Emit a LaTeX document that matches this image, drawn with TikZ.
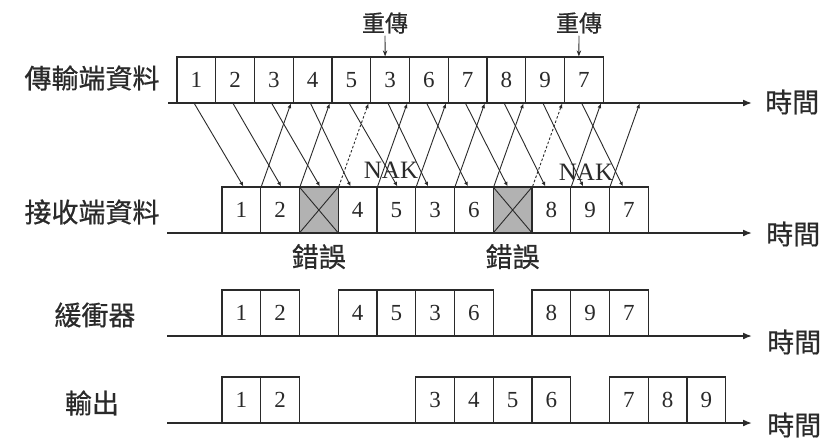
\documentclass[tikz,border=0pt]{standalone}
\usepackage{fontspec}
\setmainfont{Liberation Serif}
\newfontfamily\cjk[FakeBold=0.6]{Noto Sans CJK TC}
\usetikzlibrary{arrows.meta,calc}
\definecolor{ink}{HTML}{2A2A2A}
\definecolor{errfill}{HTML}{B2B2B2}
\begin{document}
\begin{tikzpicture}[x=1pt,y=-1pt,
  cell/.style={draw=ink,line width=1.2pt,minimum width=38.75pt,minimum height=46pt,inner sep=0pt,font=\fontsize{23}{23}\selectfont,text=ink},
  errbox/.style={cell,fill=errfill},
  axis/.style={draw=ink,line width=1.7pt,-{Latex[length=9pt,width=7pt]}},
  sig/.style={draw=ink,line width=0.9pt,-{Latex[length=4.5pt,width=4pt]}},
  nakline/.style={sig,dash pattern=on 2.5pt off 2pt},
  pointer/.style={draw=ink,line width=0.9pt,-{Stealth[length=6pt,width=4.5pt]}},
  lbl/.style={font=\cjk\fontsize{27}{27}\selectfont,text=ink,inner sep=0pt},
  smalllbl/.style={font=\cjk\fontsize{23}{23}\selectfont,text=ink,inner sep=0pt},
  naklbl/.style={font=\fontsize{25}{25}\selectfont,text=ink,inner sep=0pt}
]
\fill[white] (0,0) rectangle (828,437);
\useasboundingbox (0,0) rectangle (828,437);

% row labels
\node[lbl] (lsend) at (92,78) {傳輸端資料};
\node[lbl] (lrecv) at (92,212) {接收端資料};
\node[lbl] (lbuf) at (95,315) {緩衝器};
\node[lbl] (lout) at (92,403) {輸出};

% axes
\coordinate (sa0) at (168,103); \coordinate (sa1) at (752,103);
\coordinate (ra0) at (167,233); \coordinate (ra1) at (752,233);
\coordinate (ba0) at (167,336); \coordinate (ba1) at (752,336);
\coordinate (oa0) at (167,423); \coordinate (oa1) at (752,423);
\draw[axis] (sa0) -- (sa1);
\draw[axis] (ra0) -- (ra1);
\draw[axis] (ba0) -- (ba1);
\draw[axis] (oa0) -- (oa1);

\node[lbl,anchor=west] (t1) at (765,102) {時間};
\node[lbl,anchor=west] (t2) at (766,234) {時間};
\node[lbl,anchor=west] (t3) at (767,342) {時間};
\node[lbl,anchor=west] (t4) at (767,425) {時間};

% sender frames
\foreach \t [count=\i] in {1,2,3,4,5,3,6,7,8,9,7}
  \node[cell] (s\i) at ({177+38.75*(\i-0.5)},80) {\t};
\coordinate (s12) at ([xshift=38.75pt]s11.south east);

% receiver frames
\foreach \i/\t in {1/1,2/2,4/4,5/5,6/3,7/6,9/8,10/9,11/7}
  \node[cell] (r\i) at ({222+38.75*(\i-0.5)},210) {\t};
\foreach \i in {3,8}{
  \node[errbox] (r\i) at ({222+38.75*(\i-0.5)},210) {};
  \draw[ink,line width=0.9pt] (r\i.north west) -- (r\i.south east)
        (r\i.north east) -- (r\i.south west);
}
\node[lbl] (e1) at ([yshift=-23pt]r3.south) {錯誤};
\node[lbl] (e2) at ([yshift=-23pt]r8.south) {錯誤};

% buffer
\foreach \i/\t in {1/1,2/2,4/4,5/5,6/3,7/6,9/8,10/9,11/7}
  \node[cell] (b\i) at ({222+38.75*(\i-0.5)},313) {\t};

% output
\foreach \i/\t in {1/1,2/2,6/3,7/4,8/5,9/6,11/7,12/8,13/9}
  \node[cell] (o\i) at ({222+38.75*(\i-0.5)},400) {\t};

% data frames sender -> receiver
\foreach \k/\e in {1/2,2/1,3/1,4/-7,5/1,6/-7,7/-6,8/-5,9/-6,10/-7,11/-6}
  \draw[sig] ([xshift=-2pt]s\k.south) -- ([xshift=\e pt]r\k.north);

% ACKs receiver -> sender
\foreach \k [evaluate=\k as \j using int(\k+2)] in {1,2,4,5,6,7,9}
  \draw[sig] (r\k.north east) -- ([xshift=-3pt]s\j.south east);
\draw[sig] (r10.north east) -- ([xshift=-3pt]s12);
% NAKs (dashed)
\foreach \k [evaluate=\k as \j using int(\k+2)] in {3,8}
  \draw[nakline] (r\k.north east) -- ([xshift=-3pt]s\j.south east);

\node[naklbl] (n1) at (391,170) {NAK};
\node[naklbl] (n2) at (586,172) {NAK};

% retransmission marks
\node[smalllbl] (rt1) at (385,23) {重傳};
\node[smalllbl] (rt2) at (579,23) {重傳};
\draw[pointer,shorten <=2pt] (rt1.south) -- ([xshift=-5pt]s6.north);
\draw[pointer,shorten <=2pt] (rt2.south) -- ([xshift=-5pt]s11.north);
\end{tikzpicture}
\end{document}
